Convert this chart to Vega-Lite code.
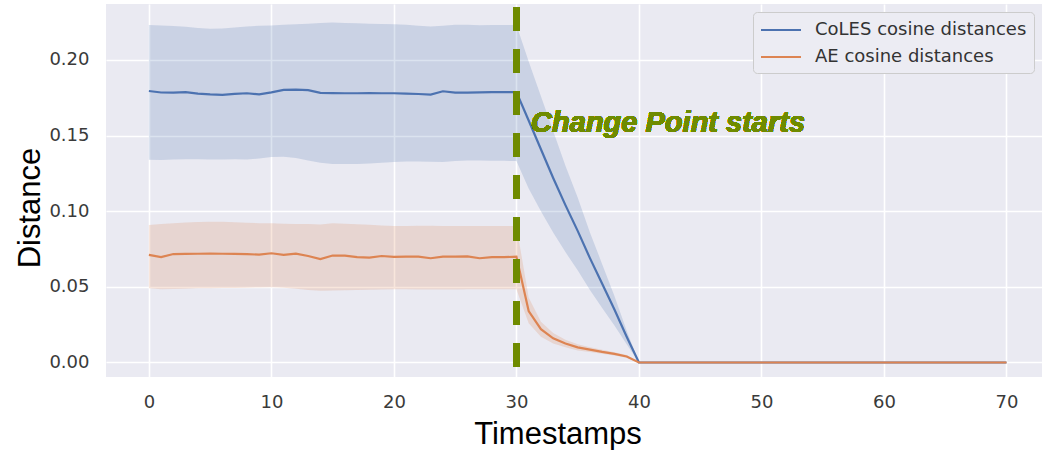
{
"$schema":"https://vega.github.io/schema/vega-lite/v6.json",
"width":936,"height":373,
"autosize":"none",
"padding":{"left":106,"top":4,"right":0,"bottom":73},
"background":"#ffffff",
"data":{"values":[
{"t":0,"s":"CoLES cosine distances","m":0.1795,"lo":0.1340,"hi":0.2231},
{"t":1,"s":"CoLES cosine distances","m":0.1785,"lo":0.1338,"hi":0.2228},
{"t":2,"s":"CoLES cosine distances","m":0.1784,"lo":0.1342,"hi":0.2225},
{"t":3,"s":"CoLES cosine distances","m":0.1787,"lo":0.1344,"hi":0.2220},
{"t":4,"s":"CoLES cosine distances","m":0.1777,"lo":0.1344,"hi":0.2212},
{"t":5,"s":"CoLES cosine distances","m":0.1772,"lo":0.1342,"hi":0.2206},
{"t":6,"s":"CoLES cosine distances","m":0.1769,"lo":0.1342,"hi":0.2208},
{"t":7,"s":"CoLES cosine distances","m":0.1776,"lo":0.1343,"hi":0.2215},
{"t":8,"s":"CoLES cosine distances","m":0.1780,"lo":0.1342,"hi":0.2222},
{"t":9,"s":"CoLES cosine distances","m":0.1773,"lo":0.1348,"hi":0.2226},
{"t":10,"s":"CoLES cosine distances","m":0.1786,"lo":0.1358,"hi":0.2228},
{"t":11,"s":"CoLES cosine distances","m":0.1802,"lo":0.1360,"hi":0.2232},
{"t":12,"s":"CoLES cosine distances","m":0.1804,"lo":0.1352,"hi":0.2236},
{"t":13,"s":"CoLES cosine distances","m":0.1800,"lo":0.1335,"hi":0.2240},
{"t":14,"s":"CoLES cosine distances","m":0.1782,"lo":0.1320,"hi":0.2245},
{"t":15,"s":"CoLES cosine distances","m":0.1781,"lo":0.1312,"hi":0.2247},
{"t":16,"s":"CoLES cosine distances","m":0.1780,"lo":0.1312,"hi":0.2245},
{"t":17,"s":"CoLES cosine distances","m":0.1780,"lo":0.1313,"hi":0.2242},
{"t":18,"s":"CoLES cosine distances","m":0.1781,"lo":0.1316,"hi":0.2240},
{"t":19,"s":"CoLES cosine distances","m":0.1780,"lo":0.1320,"hi":0.2238},
{"t":20,"s":"CoLES cosine distances","m":0.1780,"lo":0.1326,"hi":0.2236},
{"t":21,"s":"CoLES cosine distances","m":0.1778,"lo":0.1328,"hi":0.2232},
{"t":22,"s":"CoLES cosine distances","m":0.1775,"lo":0.1328,"hi":0.2226},
{"t":23,"s":"CoLES cosine distances","m":0.1771,"lo":0.1327,"hi":0.2222},
{"t":24,"s":"CoLES cosine distances","m":0.1793,"lo":0.1326,"hi":0.2226},
{"t":25,"s":"CoLES cosine distances","m":0.1784,"lo":0.1332,"hi":0.2232},
{"t":26,"s":"CoLES cosine distances","m":0.1784,"lo":0.1335,"hi":0.2232},
{"t":27,"s":"CoLES cosine distances","m":0.1786,"lo":0.1336,"hi":0.2230},
{"t":28,"s":"CoLES cosine distances","m":0.1788,"lo":0.1334,"hi":0.2231},
{"t":29,"s":"CoLES cosine distances","m":0.1788,"lo":0.1333,"hi":0.2231},
{"t":30,"s":"CoLES cosine distances","m":0.1788,"lo":0.1332,"hi":0.2231},
{"t":31,"s":"CoLES cosine distances","m":0.1600,"lo":0.1150,"hi":0.1990},
{"t":32,"s":"CoLES cosine distances","m":0.1410,"lo":0.1000,"hi":0.1760},
{"t":33,"s":"CoLES cosine distances","m":0.1220,"lo":0.0860,"hi":0.1530},
{"t":34,"s":"CoLES cosine distances","m":0.1040,"lo":0.0730,"hi":0.1300},
{"t":35,"s":"CoLES cosine distances","m":0.0870,"lo":0.0610,"hi":0.1090},
{"t":36,"s":"CoLES cosine distances","m":0.0690,"lo":0.0480,"hi":0.0860},
{"t":37,"s":"CoLES cosine distances","m":0.0520,"lo":0.0360,"hi":0.0650},
{"t":38,"s":"CoLES cosine distances","m":0.0350,"lo":0.0245,"hi":0.0440},
{"t":39,"s":"CoLES cosine distances","m":0.0170,"lo":0.0120,"hi":0.0210},
{"t":40,"s":"CoLES cosine distances","m":0,"lo":0,"hi":0},
{"t":41,"s":"CoLES cosine distances","m":0,"lo":0,"hi":0},
{"t":42,"s":"CoLES cosine distances","m":0,"lo":0,"hi":0},
{"t":43,"s":"CoLES cosine distances","m":0,"lo":0,"hi":0},
{"t":44,"s":"CoLES cosine distances","m":0,"lo":0,"hi":0},
{"t":45,"s":"CoLES cosine distances","m":0,"lo":0,"hi":0},
{"t":46,"s":"CoLES cosine distances","m":0,"lo":0,"hi":0},
{"t":47,"s":"CoLES cosine distances","m":0,"lo":0,"hi":0},
{"t":48,"s":"CoLES cosine distances","m":0,"lo":0,"hi":0},
{"t":49,"s":"CoLES cosine distances","m":0,"lo":0,"hi":0},
{"t":50,"s":"CoLES cosine distances","m":0,"lo":0,"hi":0},
{"t":51,"s":"CoLES cosine distances","m":0,"lo":0,"hi":0},
{"t":52,"s":"CoLES cosine distances","m":0,"lo":0,"hi":0},
{"t":53,"s":"CoLES cosine distances","m":0,"lo":0,"hi":0},
{"t":54,"s":"CoLES cosine distances","m":0,"lo":0,"hi":0},
{"t":55,"s":"CoLES cosine distances","m":0,"lo":0,"hi":0},
{"t":56,"s":"CoLES cosine distances","m":0,"lo":0,"hi":0},
{"t":57,"s":"CoLES cosine distances","m":0,"lo":0,"hi":0},
{"t":58,"s":"CoLES cosine distances","m":0,"lo":0,"hi":0},
{"t":59,"s":"CoLES cosine distances","m":0,"lo":0,"hi":0},
{"t":60,"s":"CoLES cosine distances","m":0,"lo":0,"hi":0},
{"t":61,"s":"CoLES cosine distances","m":0,"lo":0,"hi":0},
{"t":62,"s":"CoLES cosine distances","m":0,"lo":0,"hi":0},
{"t":63,"s":"CoLES cosine distances","m":0,"lo":0,"hi":0},
{"t":64,"s":"CoLES cosine distances","m":0,"lo":0,"hi":0},
{"t":65,"s":"CoLES cosine distances","m":0,"lo":0,"hi":0},
{"t":66,"s":"CoLES cosine distances","m":0,"lo":0,"hi":0},
{"t":67,"s":"CoLES cosine distances","m":0,"lo":0,"hi":0},
{"t":68,"s":"CoLES cosine distances","m":0,"lo":0,"hi":0},
{"t":69,"s":"CoLES cosine distances","m":0,"lo":0,"hi":0},
{"t":70,"s":"CoLES cosine distances","m":0,"lo":0,"hi":0},
{"t":0,"s":"AE cosine distances","m":0.0711,"lo":0.0490,"hi":0.0909},
{"t":1,"s":"AE cosine distances","m":0.0697,"lo":0.0484,"hi":0.0915},
{"t":2,"s":"AE cosine distances","m":0.0717,"lo":0.0486,"hi":0.0920},
{"t":3,"s":"AE cosine distances","m":0.0718,"lo":0.0488,"hi":0.0925},
{"t":4,"s":"AE cosine distances","m":0.0719,"lo":0.0490,"hi":0.0929},
{"t":5,"s":"AE cosine distances","m":0.0720,"lo":0.0491,"hi":0.0931},
{"t":6,"s":"AE cosine distances","m":0.0719,"lo":0.0492,"hi":0.0930},
{"t":7,"s":"AE cosine distances","m":0.0718,"lo":0.0493,"hi":0.0927},
{"t":8,"s":"AE cosine distances","m":0.0716,"lo":0.0494,"hi":0.0924},
{"t":9,"s":"AE cosine distances","m":0.0713,"lo":0.0496,"hi":0.0921},
{"t":10,"s":"AE cosine distances","m":0.0722,"lo":0.0497,"hi":0.0920},
{"t":11,"s":"AE cosine distances","m":0.0712,"lo":0.0494,"hi":0.0918},
{"t":12,"s":"AE cosine distances","m":0.0719,"lo":0.0488,"hi":0.0916},
{"t":13,"s":"AE cosine distances","m":0.0704,"lo":0.0480,"hi":0.0915},
{"t":14,"s":"AE cosine distances","m":0.0684,"lo":0.0475,"hi":0.0913},
{"t":15,"s":"AE cosine distances","m":0.0707,"lo":0.0476,"hi":0.0920},
{"t":16,"s":"AE cosine distances","m":0.0707,"lo":0.0478,"hi":0.0918},
{"t":17,"s":"AE cosine distances","m":0.0697,"lo":0.0480,"hi":0.0914},
{"t":18,"s":"AE cosine distances","m":0.0693,"lo":0.0481,"hi":0.0910},
{"t":19,"s":"AE cosine distances","m":0.0704,"lo":0.0483,"hi":0.0906},
{"t":20,"s":"AE cosine distances","m":0.0698,"lo":0.0484,"hi":0.0903},
{"t":21,"s":"AE cosine distances","m":0.0700,"lo":0.0484,"hi":0.0903},
{"t":22,"s":"AE cosine distances","m":0.0700,"lo":0.0483,"hi":0.0904},
{"t":23,"s":"AE cosine distances","m":0.0689,"lo":0.0482,"hi":0.0904},
{"t":24,"s":"AE cosine distances","m":0.0700,"lo":0.0482,"hi":0.0903},
{"t":25,"s":"AE cosine distances","m":0.0700,"lo":0.0483,"hi":0.0903},
{"t":26,"s":"AE cosine distances","m":0.0702,"lo":0.0484,"hi":0.0903},
{"t":27,"s":"AE cosine distances","m":0.0689,"lo":0.0484,"hi":0.0903},
{"t":28,"s":"AE cosine distances","m":0.0696,"lo":0.0484,"hi":0.0903},
{"t":29,"s":"AE cosine distances","m":0.0696,"lo":0.0484,"hi":0.0903},
{"t":30,"s":"AE cosine distances","m":0.0700,"lo":0.0484,"hi":0.0903},
{"t":31,"s":"AE cosine distances","m":0.0340,"lo":0.0260,"hi":0.0430},
{"t":32,"s":"AE cosine distances","m":0.0220,"lo":0.0170,"hi":0.0270},
{"t":33,"s":"AE cosine distances","m":0.0160,"lo":0.0125,"hi":0.0195},
{"t":34,"s":"AE cosine distances","m":0.0125,"lo":0.0100,"hi":0.0150},
{"t":35,"s":"AE cosine distances","m":0.0100,"lo":0.0080,"hi":0.0120},
{"t":36,"s":"AE cosine distances","m":0.0085,"lo":0.0070,"hi":0.0100},
{"t":37,"s":"AE cosine distances","m":0.0070,"lo":0.0058,"hi":0.0084},
{"t":38,"s":"AE cosine distances","m":0.0057,"lo":0.0046,"hi":0.0068},
{"t":39,"s":"AE cosine distances","m":0.0040,"lo":0.0031,"hi":0.0049},
{"t":40,"s":"AE cosine distances","m":0,"lo":0,"hi":0},
{"t":41,"s":"AE cosine distances","m":0,"lo":0,"hi":0},
{"t":42,"s":"AE cosine distances","m":0,"lo":0,"hi":0},
{"t":43,"s":"AE cosine distances","m":0,"lo":0,"hi":0},
{"t":44,"s":"AE cosine distances","m":0,"lo":0,"hi":0},
{"t":45,"s":"AE cosine distances","m":0,"lo":0,"hi":0},
{"t":46,"s":"AE cosine distances","m":0,"lo":0,"hi":0},
{"t":47,"s":"AE cosine distances","m":0,"lo":0,"hi":0},
{"t":48,"s":"AE cosine distances","m":0,"lo":0,"hi":0},
{"t":49,"s":"AE cosine distances","m":0,"lo":0,"hi":0},
{"t":50,"s":"AE cosine distances","m":0,"lo":0,"hi":0},
{"t":51,"s":"AE cosine distances","m":0,"lo":0,"hi":0},
{"t":52,"s":"AE cosine distances","m":0,"lo":0,"hi":0},
{"t":53,"s":"AE cosine distances","m":0,"lo":0,"hi":0},
{"t":54,"s":"AE cosine distances","m":0,"lo":0,"hi":0},
{"t":55,"s":"AE cosine distances","m":0,"lo":0,"hi":0},
{"t":56,"s":"AE cosine distances","m":0,"lo":0,"hi":0},
{"t":57,"s":"AE cosine distances","m":0,"lo":0,"hi":0},
{"t":58,"s":"AE cosine distances","m":0,"lo":0,"hi":0},
{"t":59,"s":"AE cosine distances","m":0,"lo":0,"hi":0},
{"t":60,"s":"AE cosine distances","m":0,"lo":0,"hi":0},
{"t":61,"s":"AE cosine distances","m":0,"lo":0,"hi":0},
{"t":62,"s":"AE cosine distances","m":0,"lo":0,"hi":0},
{"t":63,"s":"AE cosine distances","m":0,"lo":0,"hi":0},
{"t":64,"s":"AE cosine distances","m":0,"lo":0,"hi":0},
{"t":65,"s":"AE cosine distances","m":0,"lo":0,"hi":0},
{"t":66,"s":"AE cosine distances","m":0,"lo":0,"hi":0},
{"t":67,"s":"AE cosine distances","m":0,"lo":0,"hi":0},
{"t":68,"s":"AE cosine distances","m":0,"lo":0,"hi":0},
{"t":69,"s":"AE cosine distances","m":0,"lo":0,"hi":0},
{"t":70,"s":"AE cosine distances","m":0,"lo":0,"hi":0}
]},
"encoding":{
 "x":{"field":"t","type":"quantitative","title":"Timestamps",
  "scale":{"domain":[-3.5,72.9],"nice":false,"zero":false},
  "axis":{"values":[0,10,20,30,40,50,60,70],"labelPadding":16,"titleX":451.5,"titleY":66,"titleAlign":"center","titleBaseline":"alphabetic","labelOverlap":false}}
},
"layer":[
 {"transform":[{"filter":"datum.s === 'CoLES cosine distances'"}],
  "mark":{"type":"area","color":"#4c72b0","fillOpacity":0.2},
  "encoding":{
   "y":{"field":"lo","type":"quantitative","title":"Distance",
    "scale":{"domain":[-0.0096,0.237],"nice":false,"zero":false},
    "axis":{"values":[0,0.05,0.1,0.15,0.2],"format":".2f","labelPadding":17,"titleX":-67,"titleY":203.5,"titleAngle":-90,"titleAlign":"center","titleBaseline":"alphabetic"}},
   "y2":{"field":"hi"}}},
 {"transform":[{"filter":"datum.s === 'CoLES cosine distances'"}],
  "mark":{"type":"line","strokeWidth":2.2},
  "encoding":{
   "y":{"field":"m","type":"quantitative","title":"Distance"},
   "color":{"field":"s","type":"nominal",
    "scale":{"domain":["CoLES cosine distances","AE cosine distances"],"range":["#4c72b0","#dd8452"]},
    "legend":{"title":null,"orient":"none","legendX":647,"legendY":8}}}},
 {"transform":[{"filter":"datum.s === 'AE cosine distances'"}],
  "mark":{"type":"area","color":"#dd8452","fillOpacity":0.2},
  "encoding":{
   "y":{"field":"lo","type":"quantitative","title":"Distance"},
   "y2":{"field":"hi"}}},
 {"transform":[{"filter":"datum.s === 'AE cosine distances'"}],
  "mark":{"type":"line","strokeWidth":2.2},
  "encoding":{
   "y":{"field":"m","type":"quantitative","title":"Distance"},
   "color":{"field":"s","type":"nominal",
    "scale":{"domain":["CoLES cosine distances","AE cosine distances"],"range":["#4c72b0","#dd8452"]},
    "legend":{"title":null,"orient":"none","legendX":647,"legendY":8}}}},
 {"mark":{"type":"rule","color":"#6f8b00","strokeWidth":6,"strokeDash":[24,18],"strokeDashOffset":39},
  "encoding":{"x":{"datum":30}}},
 {"mark":{"type":"text","text":"Change Point starts","font":"Liberation Sans","fontSize":29,"fontWeight":"bold","fontStyle":"italic","color":"#6f8b00","align":"left","baseline":"alphabetic"},
  "encoding":{"x":{"datum":31.2},"y":{"datum":0.1526}}}
],
"config":{
 "view":{"fill":"#eaeaf2","stroke":null},
 "axis":{"grid":true,"gridColor":"#ffffff","gridWidth":1.6,"domain":false,"ticks":false,
  "labelFont":"DejaVu Sans","labelFontSize":18,"labelColor":"#3a3a3a",
  "titleFont":"Liberation Sans","titleFontSize":31,"titleFontWeight":"normal","titleColor":"#000000"},
 "legend":{"symbolType":"M-1,0H3","symbolSize":400,"symbolStrokeWidth":2,
  "labelFont":"DejaVu Sans","labelFontSize":18,"labelColor":"#333333","labelOffset":33,
  "padding":7,"rowPadding":7,"fillColor":"#ececf3","strokeColor":"#cccccc","cornerRadius":4,"labelLimit":400}
}
}
